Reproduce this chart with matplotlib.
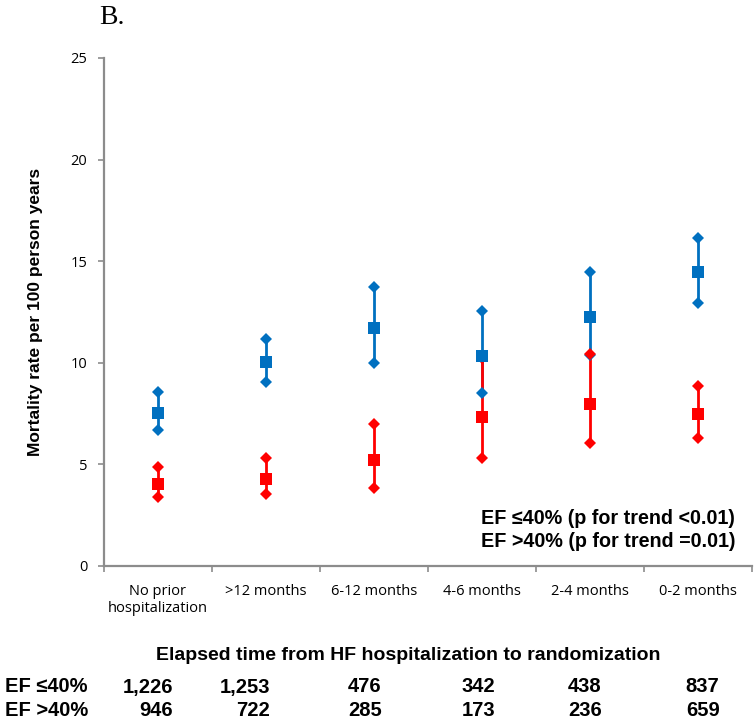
import matplotlib
matplotlib.use('Agg')
import matplotlib.pyplot as plt
import numpy as np

# ---- data ----
categories = ['No prior\nhospitalization', '>12 months', '6-12 months',
              '4-6 months', '2-4 months', '0-2 months']

ef_low_mean = [7.55, 10.05, 11.7, 10.35, 12.25, 14.45]
ef_low_lo = [6.7, 9.05, 10.0, 8.5, 10.4, 12.95]
ef_low_hi = [8.55, 11.15, 13.75, 12.55, 14.45, 16.15]

ef_high_mean = [4.05, 4.3, 5.2, 7.35, 7.97, 7.48]
ef_high_lo = [3.37, 3.55, 3.85, 5.33, 6.07, 6.3]
ef_high_hi = [4.85, 5.32, 7.0, 10.22, 10.45, 8.85]

n_low = ['1,226', '1,253', '476', '342', '438', '837']
n_high = ['946', '722', '285', '173', '236', '659']

BLUE = '#0070C0'
RED = '#FF0000'
GRAY = '#8c8c8c'
BOLD_FONT = ['Liberation Sans', 'DejaVu Sans']
TICK_FONT = ['Open Sans', 'DejaVu Sans']

fig = plt.figure(figsize=(7.55, 7.23), dpi=100)
ax = fig.add_axes([0.1377, 0.2172, 0.8583, 0.7026])

x = np.arange(len(categories))


def draw_series(mean, lo, hi, color):
    ax.vlines(x, lo, hi, color=color, lw=2, zorder=2)
    ax.plot(x, lo, 'D', color=color, ms=6, mew=0, zorder=3)
    ax.plot(x, hi, 'D', color=color, ms=6, mew=0, zorder=3)
    ax.plot(x, mean, 's', color=color, ms=8, mew=0, zorder=4)


draw_series(ef_low_mean, ef_low_lo, ef_low_hi, BLUE)
draw_series(ef_high_mean, ef_high_lo, ef_high_hi, RED)

ax.set_xlim(-0.5, len(categories) - 0.5)
ax.set_ylim(0, 25)
ax.set_yticks(range(0, 26, 5))
ax.set_yticklabels([str(v) for v in range(0, 26, 5)], family=TICK_FONT, fontsize=10.5)

# category boundaries as ticks, labels in between
ax.set_xticks(np.arange(-0.5, len(categories), 1.0))
ax.set_xticklabels([])
ax.set_xticks(x, minor=True)
ax.set_xticklabels(categories, minor=True, family=TICK_FONT, fontsize=10.5,
                   linespacing=1.15)
ax.tick_params(axis='x', which='minor', length=0, pad=13)
ax.tick_params(axis='x', which='major', length=4, width=1.2, color=GRAY, direction='out')
ax.tick_params(axis='y', length=4, width=1.2, color=GRAY, direction='out', pad=8)

for s in ['top', 'right']:
    ax.spines[s].set_visible(False)
for s in ['left', 'bottom']:
    ax.spines[s].set_color(GRAY)
    ax.spines[s].set_linewidth(1.6)

ax.set_ylabel('Mortality rate per 100 person years', family=BOLD_FONT,
              fontweight='bold', fontsize=12.5, labelpad=20)

ax.text(0.974, 2.36, 'EF \u226440% (p for trend <0.01)', transform=ax.get_yaxis_transform(),
        ha='right', va='center', family=BOLD_FONT, fontweight='bold', fontsize=14.2)
ax.text(0.974, 1.18, 'EF >40% (p for trend =0.01)', transform=ax.get_yaxis_transform(),
        ha='right', va='center', family=BOLD_FONT, fontweight='bold', fontsize=14.2)

# panel letter
fig.text(99 / 755, 1 - 17 / 723, 'B.', family=['Liberation Serif', 'DejaVu Serif'],
         fontsize=20, ha='left', va='center')

# x axis title and numbers table
fig.text(408 / 755, 1 - 655 / 723, 'Elapsed time from HF hospitalization to randomization',
         family=BOLD_FONT, fontweight='bold', fontsize=14, ha='center', va='center')

col_right = [0.14, 1.04, 2.07, 3.12, 4.11, 5.2]
row_y = [1 - 687 / 723, 1 - 711 / 723]
trans = matplotlib.transforms.blended_transform_factory(ax.transData, fig.transFigure)
for label, vals, yy in zip(['EF \u226440%', 'EF >40%'], [n_low, n_high], row_y):
    fig.text(5 / 755, yy, label, family=BOLD_FONT, fontweight='bold', fontsize=14.5,
             ha='left', va='center')
    for cx, v in zip(col_right, vals):
        ax.text(cx, yy, v, transform=trans, family=BOLD_FONT, fontweight='bold',
                fontsize=14.5, ha='right', va='center', clip_on=False)

fig.savefig('out.png', dpi=100)
